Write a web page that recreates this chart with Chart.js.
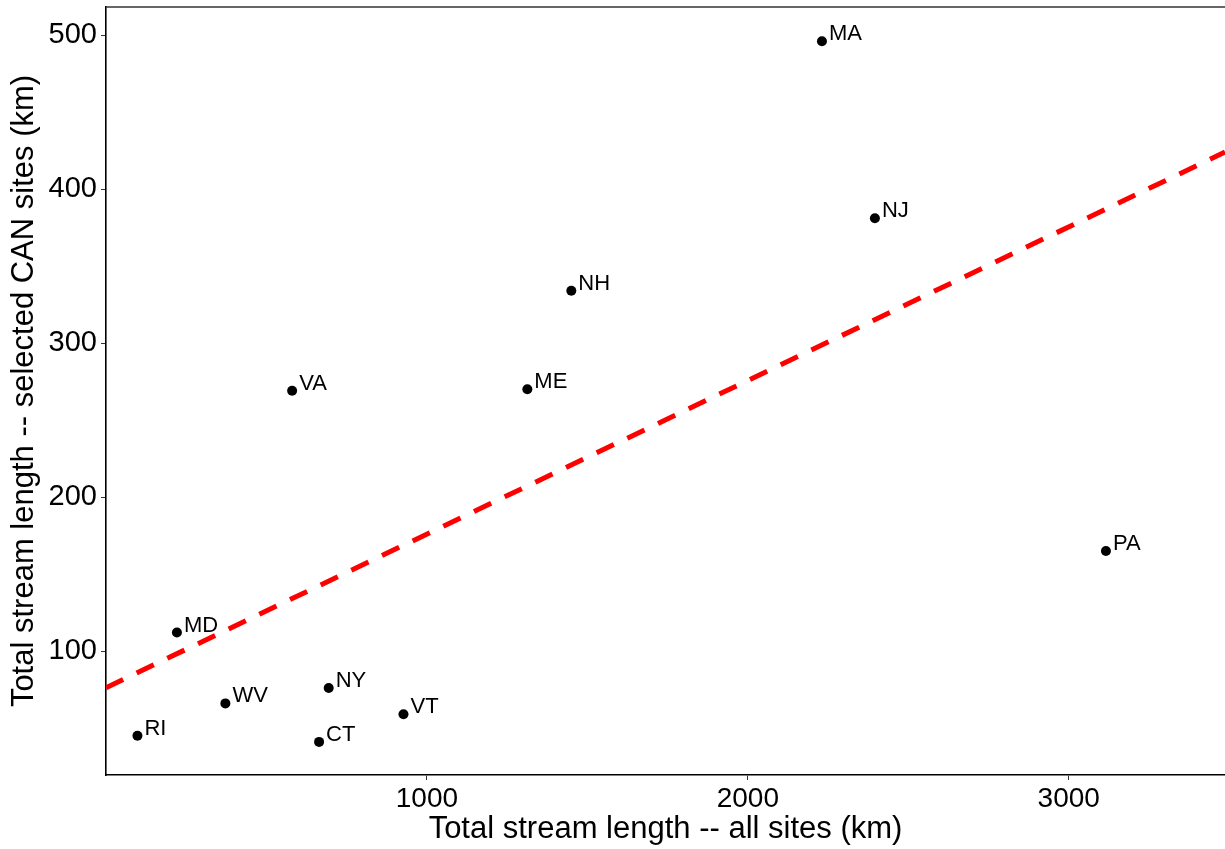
<!DOCTYPE html>
<html>
<head>
<meta charset="utf-8">
<title>Stream length by state</title>
<script src="https://cdn.jsdelivr.net/npm/chart.js@4.4.1/dist/chart.umd.min.js"></script>
<style>
  html, body { margin: 0; padding: 0; background: #ffffff; }
  #wrap { width: 1225px; height: 849px; }
</style>
</head>
<body>
<div id="wrap"><canvas id="chart" width="1225" height="849"></canvas></div>
<script>
// State abbreviations and total stream lengths (km)
const states     = ['RI', 'MD', 'WV', 'CT', 'NY', 'VT', 'VA', 'ME', 'NH', 'MA', 'NJ', 'PA'];
const allSitesKm = [98, 221, 372, 664, 694, 927, 580, 1313, 1450, 2231, 2396, 3116];
const canSitesKm = [45, 112, 66, 41, 76, 59, 269, 270, 334, 496, 381, 165];

// Reference line across the panel (end points)
const fitLineX = [0, 3487];
const fitLineY = [76.2, 424];

// Axis ticks and ranges
const xTicks = [1000, 2000, 3000];
const yTicks = [100, 200, 300, 400, 500];
const xRange = [0, 3487];
const yRange = [19.5, 518.2];

const FONT = '"Liberation Sans", Arial, Helvetica, sans-serif';

const scatterPoints = states.map((s, i) => ({ x: allSitesKm[i], y: canSitesKm[i] }));
const linePoints = fitLineX.map((x, i) => ({ x: x, y: fitLineY[i] }));

// Writes each state's abbreviation beside its point
const pointLabels = {
  id: 'pointLabels',
  afterDatasetsDraw(chart) {
    const meta = chart.getDatasetMeta(1);
    const ctx = chart.ctx;
    ctx.save();
    ctx.font = '22px ' + FONT;
    ctx.fillStyle = '#000000';
    ctx.textAlign = 'left';
    ctx.textBaseline = 'middle';
    meta.data.forEach((pt, i) => {
      ctx.fillText(states[i], pt.x + 7, pt.y - 7);
    });
    ctx.restore();
  }
};

// Top edge of the panel frame
const topFrame = {
  id: 'topFrame',
  afterDraw(chart) {
    const { ctx, chartArea } = chart;
    ctx.save();
    ctx.strokeStyle = '#333333';
    ctx.lineWidth = 1.3;
    ctx.beginPath();
    ctx.moveTo(chartArea.left, chartArea.top);
    ctx.lineTo(chartArea.right, chartArea.top);
    ctx.stroke();
    ctx.restore();
  }
};

new Chart(document.getElementById('chart'), {
  data: {
    datasets: [
      {
        type: 'line',
        data: linePoints,
        borderColor: '#ff0000',
        borderWidth: 5,
        borderDash: [19, 15],
        pointRadius: 0,
        fill: false,
        tension: 0,
        order: 0
      },
      {
        type: 'scatter',
        data: scatterPoints,
        backgroundColor: '#000000',
        borderWidth: 0,
        pointRadius: 5,
        order: 1
      }
    ]
  },
  options: {
    responsive: false,
    animation: false,
    layout: { autoPadding: false, padding: { top: 7, right: 0, bottom: 0, left: 0 } },
    plugins: {
      legend: { display: false },
      tooltip: { enabled: false }
    },
    scales: {
      x: {
        type: 'linear',
        min: xRange[0],
        max: xRange[1],
        afterBuildTicks: (scale) => { scale.ticks = xTicks.map(v => ({ value: v })); },
        afterFit: (scale) => {
          scale.height = 74;
          scale.paddingLeft = 0;
          scale.paddingRight = 0;
        },
        grid: {
          drawOnChartArea: false,
          drawTicks: true,
          tickLength: 5,
          tickColor: '#333333',
          tickWidth: 1
        },
        border: { display: true, color: '#000000', width: 1.6 },
        ticks: {
          color: '#000000',
          font: { family: FONT, size: 28 },
          padding: 2,
          maxRotation: 0,
          callback: (v) => String(v)
        },
        title: {
          display: true,
          text: 'Total stream length -- all sites (km)',
          color: '#000000',
          font: { family: FONT, size: 31 },
          padding: { top: 0, bottom: 1 }
        }
      },
      y: {
        type: 'linear',
        min: yRange[0],
        max: yRange[1],
        afterBuildTicks: (scale) => { scale.ticks = yTicks.map(v => ({ value: v })); },
        afterFit: (scale) => {
          scale.width = 106;
          scale.paddingTop = 0;
          scale.paddingBottom = 0;
        },
        grid: {
          drawOnChartArea: false,
          drawTicks: true,
          tickLength: 5,
          tickColor: '#333333',
          tickWidth: 1
        },
        border: { display: true, color: '#000000', width: 1.6 },
        ticks: {
          color: '#000000',
          font: { family: FONT, size: 29 },
          padding: 4,
          callback: (v) => String(v)
        },
        title: {
          display: true,
          text: 'Total stream length -- selected CAN sites (km)',
          color: '#000000',
          font: { family: FONT, size: 31 },
          padding: { top: 6, bottom: 0 }
        }
      }
    }
  },
  plugins: [pointLabels, topFrame]
});
</script>
</body>
</html>
